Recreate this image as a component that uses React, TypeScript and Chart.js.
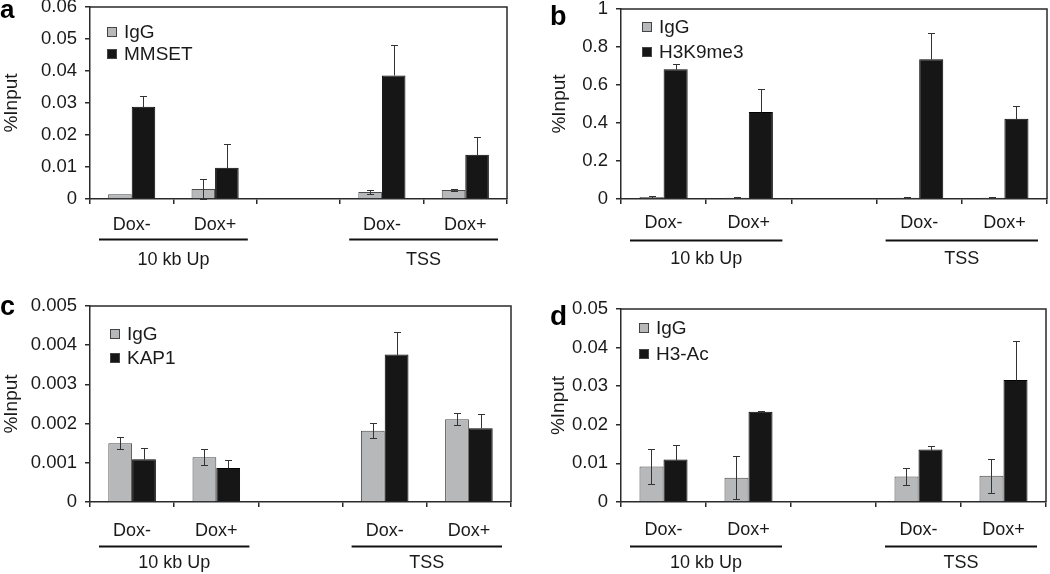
import React, { useEffect, useRef } from 'react';
import { Chart, registerables } from 'chart.js';

Chart.register(...registerables);

// ---------- data ----------
const categories = ['Dox-', 'Dox+', '', 'Dox-', 'Dox+'];
const groupLabels = ['10 kb Up', 'TSS'];
const groupStart = [0, 3];
const groupEnd = [1, 4];

// panel a
const igGA = [0.0015, 0.0031, null, 0.0022, 0.0028];
const igGErrA = [0, 0.0031, null, 0.0005, 0.0004];
const mmset = [0.0288, 0.0098, null, 0.0386, 0.0138];
const mmsetErr = [0.0035, 0.0074, null, 0.0096, 0.0055];
const yTicksA = ['0', '0.01', '0.02', '0.03', '0.04', '0.05', '0.06'];

// panel b
const igGB = [0.01, 0.006, null, 0.006, 0.007];
const igGErrB = [0.005, 0.003, null, 0.002, 0.003];
const h3k9me3 = [0.683, 0.458, null, 0.735, 0.423];
const h3k9me3Err = [0.026, 0.122, null, 0.137, 0.065];
const yTicksB = ['0', '0.2', '0.4', '0.6', '0.8', '1'];

// panel c
const igGC = [0.0015, 0.00114, null, 0.00182, 0.00211];
const igGErrC = [0.00016, 0.0002, null, 0.00019, 0.00015];
const kap1 = [0.00109, 0.00087, null, 0.00376, 0.00188];
const kap1Err = [0.00028, 0.0002, null, 0.00057, 0.00037];
const yTicksC = ['0', '0.001', '0.002', '0.003', '0.004', '0.005'];

// panel d
const igGD = [0.0092, 0.0063, null, 0.0066, 0.0068];
const igGErrD = [0.0045, 0.0056, null, 0.0022, 0.0044];
const h3ac = [0.011, 0.0234, null, 0.0136, 0.0316];
const h3acErr = [0.0037, 0.0003, null, 0.001, 0.01];
const yTicksD = ['0', '0.01', '0.02', '0.03', '0.04', '0.05'];

// ---------- styles / layout ----------
const FONT = '"Liberation Sans", Arial, Helvetica, sans-serif';
const GRAY = '#b7b8ba';
const BLACK = '#161616';
const LINE = '#2a2a2a';
const TEXT = '#1a1a1a';

type PanelCfg = {
  letter: string;
  left: number; top: number; w: number; h: number;
  plotL: number; plotR: number; plotT: number; plotB: number;
  yMax: number; step: number; yTicks: string[];
  igg: (number | null)[]; iggErr: (number | null)[];
  name: string; vals: (number | null)[]; errs: (number | null)[];
  legX: number; legY: number; legGap: number;
  xPad: number; lineOff: number; groupOff: number;
  titlePad: number;
  letterX: number; letterY: number; letterSize: number;
};

const panels: PanelCfg[] = [
  {
    letter: 'a', left: 0, top: 0, w: 525, h: 287,
    plotL: 90, plotR: 507, plotT: 7, plotB: 199,
    yMax: 0.06, step: 0.01, yTicks: yTicksA,
    igg: igGA, iggErr: igGErrA, name: 'MMSET', vals: mmset, errs: mmsetErr,
    legX: 107, legY: 32, legGap: 22,
    xPad: 10, lineOff: 40, groupOff: 61, titlePad: 0,
    letterX: 0, letterY: 18, letterSize: 26,
  },
  {
    letter: 'b', left: 525, top: 0, w: 525, h: 287,
    plotL: 96, plotR: 522, plotT: 9, plotB: 199,
    yMax: 1, step: 0.2, yTicks: yTicksB,
    igg: igGB, iggErr: igGErrB, name: 'H3K9me3', vals: h3k9me3, errs: h3k9me3Err,
    legX: 117, legY: 27, legGap: 25,
    xPad: 8, lineOff: 41, groupOff: 60, titlePad: 23,
    letterX: 25, letterY: 25, letterSize: 27,
  },
  {
    letter: 'c', left: 0, top: 287, w: 525, h: 287,
    plotL: 90, plotR: 511, plotT: 19, plotB: 215,
    yMax: 0.005, step: 0.001, yTicks: yTicksC,
    igg: igGC, iggErr: igGErrC, name: 'KAP1', vals: kap1, errs: kap1Err,
    legX: 110, legY: 47, legGap: 24,
    xPad: 13, lineOff: 44, groupOff: 61, titlePad: 0,
    letterX: 0, letterY: 28, letterSize: 27,
  },
  {
    letter: 'd', left: 525, top: 287, w: 525, h: 287,
    plotL: 96, plotR: 521, plotT: 22, plotB: 215,
    yMax: 0.05, step: 0.01, yTicks: yTicksD,
    igg: igGD, iggErr: igGErrD, name: 'H3-Ac', vals: h3ac, errs: h3acErr,
    legX: 114, legY: 41, legGap: 26,
    xPad: 12, lineOff: 44, groupOff: 61, titlePad: 22,
    letterX: 25, letterY: 38, letterSize: 28,
  },
];

function makePlugin(p: PanelCfg, errLists: (number | null)[][]) {
  return {
    id: 'panelExtras' + p.letter,
    afterDatasetsDraw(chart: any) {
      const ctx = chart.ctx;
      const yS = chart.scales.y;
      ctx.save();
      ctx.strokeStyle = '#333';
      ctx.lineWidth = 1;
      chart.data.datasets.forEach((ds: any, di: number) => {
        const meta = chart.getDatasetMeta(di);
        const drawLower = di === 0;
        meta.data.forEach((bar: any, j: number) => {
          const v = ds.data[j];
          const e = errLists[di][j];
          if (v == null || !e) return;
          const x = Math.round(bar.x) + 0.5;
          const yt = Math.round(yS.getPixelForValue(v + e)) + 0.5;
          const yb = drawLower
            ? Math.round(yS.getPixelForValue(Math.max(v - e, 0))) + 0.5
            : Math.round(yS.getPixelForValue(v)) + 0.5;
          ctx.beginPath();
          ctx.moveTo(x, yb); ctx.lineTo(x, yt);
          ctx.moveTo(x - 3.5, yt); ctx.lineTo(x + 3.5, yt);
          if (drawLower) { ctx.moveTo(x - 3.5, yb); ctx.lineTo(x + 3.5, yb); }
          ctx.stroke();
        });
      });
      ctx.restore();
    },
    afterDraw(chart: any) {
      const ctx = chart.ctx;
      const a = chart.chartArea;
      const xS = chart.scales.x;
      ctx.save();
      // frame top and right
      ctx.strokeStyle = LINE;
      ctx.lineWidth = 1.5;
      ctx.beginPath();
      ctx.moveTo(a.left, a.top);
      ctx.lineTo(a.right, a.top);
      ctx.lineTo(a.right, a.bottom);
      ctx.stroke();

      // legend
      ctx.font = `19px ${FONT}`;
      ctx.textBaseline = 'middle';
      ctx.textAlign = 'left';
      chart.data.datasets.forEach((ds: any, i: number) => {
        const cy = p.legY + i * p.legGap;
        ctx.fillStyle = ds.backgroundColor;
        ctx.fillRect(p.legX, cy - 5, 10, 10);
        ctx.strokeStyle = '#444';
        ctx.lineWidth = 1;
        ctx.strokeRect(p.legX + 0.5, cy - 4.5, 9, 9);
        ctx.fillStyle = TEXT;
        ctx.fillText(ds.label, p.legX + 17, cy + 1);
      });

      // group lines and labels
      const catW = xS.getPixelForValue(1) - xS.getPixelForValue(0);
      ctx.font = `18px ${FONT}`;
      ctx.textAlign = 'center';
      groupLabels.forEach((lab, g) => {
        const l = xS.getPixelForValue(groupStart[g]) - catW / 2 + 9;
        const r = xS.getPixelForValue(groupEnd[g]) + catW / 2 - 9;
        const ly = Math.round(a.bottom + p.lineOff) + 0.5;
        ctx.strokeStyle = '#111';
        ctx.lineWidth = 2;
        ctx.beginPath();
        ctx.moveTo(l, ly); ctx.lineTo(r, ly);
        ctx.stroke();
        ctx.fillStyle = TEXT;
        ctx.fillText(lab, (l + r) / 2, a.bottom + p.groupOff);
      });

      // panel letter
      ctx.font = `bold ${p.letterSize}px ${FONT}`;
      ctx.textAlign = 'left';
      ctx.textBaseline = 'alphabetic';
      ctx.fillStyle = '#000';
      ctx.fillText(p.letter, p.letterX, p.letterY);
      ctx.restore();
    },
  };
}

function Panel({ p }: { p: PanelCfg }) {
  const ref = useRef<HTMLCanvasElement | null>(null);
  useEffect(() => {
    if (!ref.current) return;
    const errLists = [p.iggErr, p.errs];
    const chart = new Chart(ref.current, {
      type: 'bar',
      data: {
        labels: categories,
        datasets: [
          {
            label: 'IgG', data: p.igg as any, backgroundColor: GRAY,
            borderColor: '#4a4a4a', borderWidth: 1,
            categoryPercentage: 0.565, barPercentage: 1,
          },
          {
            label: p.name, data: p.vals as any, backgroundColor: BLACK,
            borderColor: '#000', borderWidth: 1,
            categoryPercentage: 0.565, barPercentage: 1,
          },
        ],
      },
      options: {
        responsive: false,
        animation: false,
        devicePixelRatio: 1,
        layout: { padding: { left: 0, top: p.plotT, right: p.w - p.plotR, bottom: 0 } },
        plugins: { legend: { display: false }, tooltip: { enabled: false }, title: { display: false } },
        scales: {
          x: {
            type: 'category',
            offset: true,
            grid: {
              display: true, drawOnChartArea: false, drawTicks: true, tickLength: 5,
              color: LINE, lineWidth: 1.5, offset: true,
            },
            border: { display: true, color: LINE, width: 1.5 },
            ticks: {
              color: TEXT, font: { family: FONT, size: 18 }, padding: p.xPad,
              autoSkip: false, maxRotation: 0, minRotation: 0,
            },
            afterFit: (s: any) => {
              s.height = p.h - p.plotB;
              s.paddingLeft = 0; s.paddingRight = 0;
            },
          } as any,
          y: {
            min: 0, max: p.yMax,
            ticks: {
              stepSize: p.step,
              color: TEXT, font: { family: FONT, size: 18.5 }, padding: 8,
              callback: (v: any, i: number) => (p.yTicks[i] !== undefined ? p.yTicks[i] : String(v)),
            },
            grid: {
              display: true, drawOnChartArea: false, drawTicks: true, tickLength: 5,
              color: LINE, lineWidth: 1.5,
            },
            border: { display: true, color: LINE, width: 1.5 },
            title: {
              display: true, text: '%Input', color: TEXT,
              font: { family: FONT, size: 19 }, padding: { top: p.titlePad, bottom: 0 },
            },
            afterFit: (s: any) => {
              s.width = p.plotL;
              s.paddingTop = 0; s.paddingBottom = 0;
            },
          } as any,
        },
      },
      plugins: [makePlugin(p, errLists)],
    });
    return () => chart.destroy();
  }, [p]);
  return (
    <div style={{ position: 'absolute', left: p.left, top: p.top, width: p.w, height: p.h }}>
      <canvas ref={ref} width={p.w} height={p.h} style={{ display: 'block', width: p.w, height: p.h }} />
    </div>
  );
}

export default function App() {
  return (
    <div style={{ position: 'absolute', left: 0, top: 0, width: 1050, height: 574, background: '#fff' }}>
      {panels.map((p) => (
        <Panel key={p.letter} p={p} />
      ))}
    </div>
  );
}
